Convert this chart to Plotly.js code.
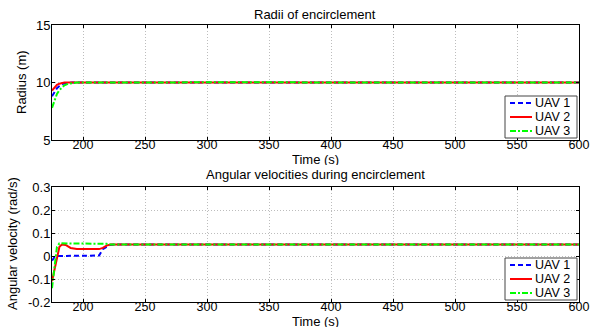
<!DOCTYPE html>
<html>
<head>
<meta charset="utf-8">
<script src="https://cdn.plot.ly/plotly-3.0.1.min.js"></script>
<style>html,body{margin:0;padding:0;background:#fff;}#chart{width:592px;height:327px;}</style>
</head>
<body>
<div id="chart"></div>
<script>
// Radii of encirclement
var tR = [175, 177, 179, 181, 183, 185, 188, 191, 195, 200, 250, 300, 350, 400, 450, 500, 550, 600];
var rUAV1 = [8.8, 9.2, 9.5, 9.7, 9.85, 9.92, 9.97, 9.99, 10.0, 10.0, 10.0, 10.02, 10.0, 10.01, 9.99, 10.0, 9.98, 10.0];
var rUAV2 = [9.3, 9.6, 9.8, 9.9, 9.96, 9.99, 10.0, 10.0, 10.0, 10.0, 9.99, 10.0, 10.0, 9.99, 10.0, 10.0, 10.01, 10.0];
var rUAV3 = [7.8, 8.5, 9.0, 9.35, 9.6, 9.75, 9.88, 9.95, 9.99, 10.0, 10.02, 10.0, 10.02, 10.0, 10.02, 10.02, 10.0, 10.0];

// Angular velocities during encirclement
var tW = [175, 177, 179, 181, 183, 186, 190, 195, 200, 205, 210, 213, 216, 219, 222, 226, 250, 300, 400, 500, 600];
var wUAV1 = [-0.02, -0.005, 0.0, 0.0, 0.0, 0.0, 0.0, 0.0, 0.0, 0.0, 0.0, 0.002, 0.03, 0.04, 0.048, 0.05, 0.05, 0.05, 0.05, 0.05, 0.05];
var wUAV2 = [-0.11, -0.06, 0.0, 0.04, 0.05, 0.048, 0.035, 0.03, 0.03, 0.03, 0.03, 0.03, 0.035, 0.045, 0.05, 0.05, 0.05, 0.05, 0.05, 0.05, 0.05];
var wUAV3 = [-0.14, -0.05, 0.04, 0.055, 0.055, 0.055, 0.055, 0.055, 0.055, 0.055, 0.055, 0.055, 0.055, 0.053, 0.05, 0.05, 0.05, 0.05, 0.05, 0.05, 0.05];

var timeTicks = [200, 250, 300, 350, 400, 450, 500, 550, 600];
var names = ['UAV 1', 'UAV 2', 'UAV 3'];
var colors = ['#0000ff', '#ff0000', '#00ff00'];
var dashPx = ['5px,3px', 'solid', '6px,2px,2px,2px'];

var traces = [];
[rUAV1, rUAV2, rUAV3].forEach(function (y, i) {
  traces.push({x: tR, y: y, type: 'scatter', mode: 'lines', name: names[i], showlegend: false,
    line: {color: colors[i], width: 2, dash: dashPx[i]}, xaxis: 'x', yaxis: 'y'});
});
[wUAV1, wUAV2, wUAV3].forEach(function (y, i) {
  traces.push({x: tW, y: y, type: 'scatter', mode: 'lines', name: names[i], showlegend: false,
    line: {color: colors[i], width: 2, dash: dashPx[i]}, xaxis: 'x2', yaxis: 'y2'});
});

var FF = 'Liberation Sans, Arial, sans-serif';
var axBase = {showline: true, mirror: 'ticks', linecolor: '#000', linewidth: 1, ticks: 'inside', ticklen: 3,
  tickcolor: '#000', showgrid: true, gridcolor: '#bdbdbd', griddash: '1px,2px', gridwidth: 1, zeroline: false,
  tickfont: {family: FF, size: 13, color: '#000'}};
function ax(extra) { return Object.assign({}, axBase, extra); }

var H = 327, W = 592;
function yd(px) { return 1 - px / H; }
function xd(px) { return px / W; }

var annotations = [
  {text: 'Radii of encirclement', x: xd(315), y: yd(14)},
  {text: 'Angular velocities during encirclement', x: xd(315), y: yd(174)},
  {text: 'Time (s)', x: xd(315), y: yd(159.5), height: 12},
  {text: 'Time (s)', x: xd(315), y: yd(321), height: 12},
  {text: 'Radius (m)', x: xd(22), y: yd(82), textangle: -90},
  {text: 'Angular velocity (rad/s)', x: xd(12), y: yd(244), textangle: -90}
].map(function (a) {
  return Object.assign({xref: 'paper', yref: 'paper', showarrow: false, xanchor: 'center', yanchor: 'middle',
    font: {family: FF, size: 13, color: '#000'}}, a);
});

// compact legends, as in the reference
var shapes = [];
[96, 258].forEach(function (top) {
  shapes.push({type: 'rect', xref: 'paper', yref: 'paper', x0: xd(505), x1: xd(577), y0: yd(top + 42), y1: yd(top),
    line: {color: '#444', width: 1}, fillcolor: '#fff', layer: 'above'});
  names.forEach(function (n, i) {
    var yy = top + 7 + i * 14;
    shapes.push({type: 'line', xref: 'paper', yref: 'paper', x0: xd(510), x1: xd(532), y0: yd(yy), y1: yd(yy),
      line: {color: colors[i], width: 2, dash: dashPx[i]}, layer: 'above'});
    annotations.push({text: n, xref: 'paper', yref: 'paper', x: xd(533), y: yd(yy), xanchor: 'left', yanchor: 'middle',
      height: 12, showarrow: false, font: {family: FF, size: 12.5, color: '#000'}});
  });
});

var xTickFont = {family: FF, size: 12.5, color: '#000'};
var layout = {
  width: W, height: H,
  margin: {l: 0, r: 0, t: 0, b: 0},
  paper_bgcolor: '#fff', plot_bgcolor: '#fff',
  font: {family: FF, size: 13, color: '#000'},
  showlegend: false,
  xaxis: ax({domain: [xd(52), xd(579)], range: [175, 600], tickvals: timeTicks, anchor: 'y', ticklabelstandoff: -7,
    tickfont: xTickFont}),
  yaxis: ax({domain: [yd(140), yd(25)], range: [5, 15], tickvals: [5, 10, 15], anchor: 'x', ticklabelstandoff: -2}),
  xaxis2: ax({domain: [xd(52), xd(579)], range: [175, 600], tickvals: timeTicks, anchor: 'y2', ticklabelstandoff: -7,
    tickfont: xTickFont}),
  yaxis2: ax({domain: [yd(302), yd(187)], range: [-0.2, 0.3], tickvals: [-0.2, -0.1, 0, 0.1, 0.2, 0.3],
    ticktext: ['-0.2', '-0.1', '0', '0.1', '0.2', '0.3'], anchor: 'x2', ticklabelstandoff: -2}),
  annotations: annotations,
  shapes: shapes
};

Plotly.newPlot('chart', traces, layout, {displayModeBar: false, staticPlot: true});
</script>
</body>
</html>
